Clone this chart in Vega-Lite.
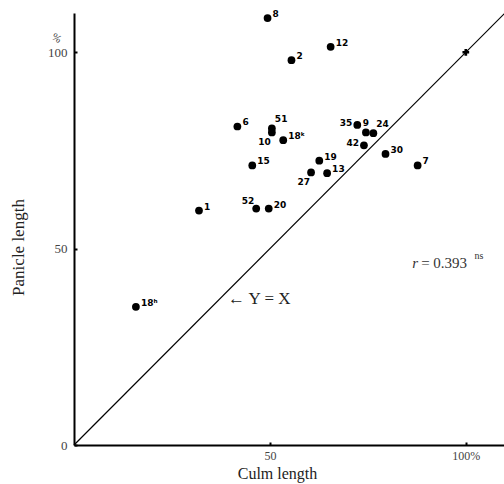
{
  "$schema": "https://vega.github.io/schema/vega-lite/v6.json",
  "width": 431,
  "height": 432,
  "autosize": "none",
  "padding": {"left": 74, "top": 13, "right": 0, "bottom": 39},
  "background": "white",
  "config": {"view": {"stroke": null}},
  "datasets": {
    "pts": [
      {"id": "8", "culm": 49.4, "panicle": 108.7},
      {"id": "2", "culm": 55.5, "panicle": 98.0},
      {"id": "12", "culm": 65.5, "panicle": 101.4},
      {"id": "6", "culm": 41.7, "panicle": 81.1},
      {"id": "51", "culm": 50.5, "panicle": 80.6},
      {"id": "10", "culm": 50.5, "panicle": 79.6},
      {"id": "18ᵏ", "culm": 53.4, "panicle": 77.6},
      {"id": "15", "culm": 45.5, "panicle": 71.2},
      {"id": "35", "culm": 72.3, "panicle": 81.5},
      {"id": "9", "culm": 74.5, "panicle": 79.6},
      {"id": "24", "culm": 76.4, "panicle": 79.4},
      {"id": "42", "culm": 74.0, "panicle": 76.3},
      {"id": "30", "culm": 79.5, "panicle": 74.1},
      {"id": "7", "culm": 87.7, "panicle": 71.2},
      {"id": "19", "culm": 62.6, "panicle": 72.4},
      {"id": "27", "culm": 60.5, "panicle": 69.4},
      {"id": "13", "culm": 64.6, "panicle": 69.2},
      {"id": "52", "culm": 46.5, "panicle": 60.2},
      {"id": "20", "culm": 49.7, "panicle": 60.2},
      {"id": "1", "culm": 31.9, "panicle": 59.7},
      {"id": "18ʰ", "culm": 15.8, "panicle": 35.2}
    ],
    "one": [{}]
  },
  "data": {"name": "pts"},
  "layer": [
    {
      "mark": {"type": "circle", "size": 60, "color": "black", "opacity": 1},
      "encoding": {
        "x": {"field": "culm", "type": "quantitative",
          "scale": {"domain": [0, 110], "nice": false, "zero": true},
          "axis": {"title": "Culm length", "values": [50, 100], "grid": false,
            "labelExpr": "datum.value == 100 ? '100%' : datum.label",
            "domainColor": "black", "domainWidth": 2, "tickColor": "black", "tickWidth": 2, "tickSize": -3,
            "labelFont": "Liberation Serif", "labelFontSize": 12, "labelColor": "#444", "labelPadding": 8,
            "titleFont": "Liberation Serif", "titleFontSize": 16, "titleFontWeight": "normal", "titleColor": "#222",
            "titleX": 203, "titleY": 33, "titleBaseline": "alphabetic"}},
        "y": {"field": "panicle", "type": "quantitative",
          "scale": {"domain": [0, 110], "nice": false, "zero": true},
          "axis": {"title": "Panicle length", "values": [0, 50, 100], "grid": false,
            "domainColor": "black", "domainWidth": 2, "tickColor": "black", "tickWidth": 2, "tickSize": -3,
            "labelFont": "Liberation Serif", "labelFontSize": 13, "labelColor": "#444", "labelPadding": 10,
            "titleFont": "Liberation Serif", "titleFontSize": 17, "titleFontWeight": "normal", "titleColor": "#222",
            "titleX": -56, "titleY": 234, "titleBaseline": "middle"}}
      }
    },
    {
      "data": {"name": "one"},
      "mark": {"type": "rule", "color": "black", "strokeWidth": 1.2},
      "encoding": {
        "x": {"datum": 0, "type": "quantitative"},
        "y": {"datum": 0, "type": "quantitative"},
        "x2": {"datum": 110},
        "y2": {"datum": 110}
      }
    },
    {
      "data": {"name": "one"},
      "mark": {"type": "point", "shape": "cross", "filled": true, "size": 45, "color": "black", "opacity": 1},
      "encoding": {
        "x": {"datum": 100, "type": "quantitative"},
        "y": {"datum": 100, "type": "quantitative"}
      }
    },
    {
      "transform": [{"filter": {"not": {"field": "id", "oneOf": ["35", "42", "10", "27", "52", "9", "51", "24"]}}}],
      "mark": {"type": "text", "align": "left", "baseline": "middle", "dx": 5, "dy": -4, "font": "DejaVu Sans", "fontSize": 9, "fontWeight": "bold", "color": "black"},
      "encoding": {"x": {"field": "culm", "type": "quantitative"}, "y": {"field": "panicle", "type": "quantitative"}, "text": {"field": "id"}}
    },
    {
      "transform": [{"filter": {"field": "id", "oneOf": ["35", "42"]}}],
      "mark": {"type": "text", "align": "right", "baseline": "middle", "dx": -5, "dy": -2, "font": "DejaVu Sans", "fontSize": 9, "fontWeight": "bold", "color": "black"},
      "encoding": {"x": {"field": "culm", "type": "quantitative"}, "y": {"field": "panicle", "type": "quantitative"}, "text": {"field": "id"}}
    },
    {
      "transform": [{"filter": {"field": "id", "oneOf": ["10", "27"]}}],
      "mark": {"type": "text", "align": "right", "baseline": "middle", "dx": -1, "dy": 10, "font": "DejaVu Sans", "fontSize": 9, "fontWeight": "bold", "color": "black"},
      "encoding": {"x": {"field": "culm", "type": "quantitative"}, "y": {"field": "panicle", "type": "quantitative"}, "text": {"field": "id"}}
    },
    {
      "transform": [{"filter": {"field": "id", "oneOf": ["52"]}}],
      "mark": {"type": "text", "align": "right", "baseline": "middle", "dx": -2, "dy": -8, "font": "DejaVu Sans", "fontSize": 9, "fontWeight": "bold", "color": "black"},
      "encoding": {"x": {"field": "culm", "type": "quantitative"}, "y": {"field": "panicle", "type": "quantitative"}, "text": {"field": "id"}}
    },
    {
      "transform": [{"filter": {"field": "id", "oneOf": ["9"]}}],
      "mark": {"type": "text", "align": "center", "baseline": "middle", "dx": 0, "dy": -9, "font": "DejaVu Sans", "fontSize": 9, "fontWeight": "bold", "color": "black"},
      "encoding": {"x": {"field": "culm", "type": "quantitative"}, "y": {"field": "panicle", "type": "quantitative"}, "text": {"field": "id"}}
    },
    {
      "transform": [{"filter": {"field": "id", "oneOf": ["51", "24"]}}],
      "mark": {"type": "text", "align": "left", "baseline": "middle", "dx": 3, "dy": -9, "font": "DejaVu Sans", "fontSize": 9, "fontWeight": "bold", "color": "black"},
      "encoding": {"x": {"field": "culm", "type": "quantitative"}, "y": {"field": "panicle", "type": "quantitative"}, "text": {"field": "id"}}
    },
    {
      "data": {"name": "one"},
      "mark": {"type": "text", "align": "left", "baseline": "middle", "font": "Liberation Serif", "fontSize": 17, "color": "#222", "text": "← Y = X"},
      "encoding": {"x": {"datum": 39.3, "type": "quantitative"}, "y": {"datum": 37.2, "type": "quantitative"}}
    },
    {
      "data": {"name": "one"},
      "mark": {"type": "text", "align": "left", "baseline": "middle", "font": "Liberation Serif", "fontSize": 15, "fontStyle": "italic", "color": "#333", "text": "r"},
      "encoding": {"x": {"datum": 86.3, "type": "quantitative"}, "y": {"datum": 46.3, "type": "quantitative"}}
    },
    {
      "data": {"name": "one"},
      "mark": {"type": "text", "align": "left", "baseline": "middle", "font": "Liberation Serif", "fontSize": 15, "color": "#333", "text": "= 0.393"},
      "encoding": {"x": {"datum": 88.6, "type": "quantitative"}, "y": {"datum": 46.3, "type": "quantitative"}}
    },
    {
      "data": {"name": "one"},
      "mark": {"type": "text", "align": "left", "baseline": "middle", "font": "Liberation Serif", "fontSize": 10, "color": "#333", "text": "ns"},
      "encoding": {"x": {"datum": 102.2, "type": "quantitative"}, "y": {"datum": 48.2, "type": "quantitative"}}
    },
    {
      "data": {"name": "one"},
      "mark": {"type": "text", "align": "center", "baseline": "middle", "font": "Liberation Serif", "fontSize": 11, "color": "#444", "angle": 30, "text": "%"},
      "encoding": {"x": {"datum": -4.5, "type": "quantitative"}, "y": {"datum": 103.5, "type": "quantitative"}}
    }
  ]
}
